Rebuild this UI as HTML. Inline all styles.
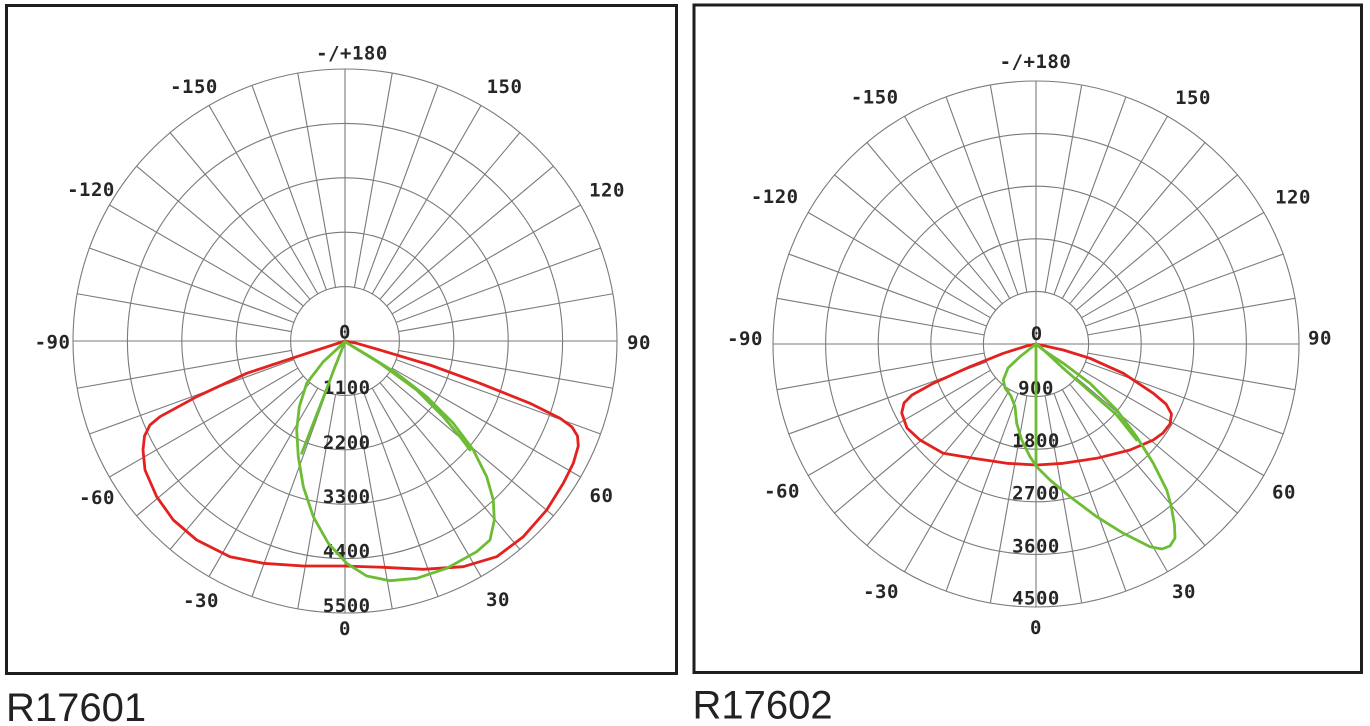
<!DOCTYPE html>
<html><head><meta charset="utf-8"><style>
html,body{margin:0;padding:0;background:#fff;}
svg{display:block;}
.g line{stroke:#7a7a7a;stroke-width:1.1;}
.g circle{fill:none;stroke:#7a7a7a;stroke-width:1.1;}
.l{font-family:"DejaVu Sans Mono","Liberation Mono",monospace;font-weight:bold;font-size:19px;fill:#262626;text-anchor:middle;letter-spacing:0.5px;}
.t{font-family:"Liberation Sans",Arial,sans-serif;font-size:40px;fill:#222;}
.red{fill:none;stroke:#e3221f;stroke-width:2.8;stroke-linejoin:round;stroke-linecap:round;}
.grn{fill:none;stroke:#6cbd34;stroke-width:2.8;stroke-linejoin:round;stroke-linecap:round;}
</style></head><body>
<svg width="1370" height="726" viewBox="0 0 1370 726" xmlns="http://www.w3.org/2000/svg">
<rect x="0" y="0" width="1370" height="726" fill="#fff"/>
<!-- boxes -->
<rect x="6.5" y="5.5" width="670" height="668" fill="none" stroke="#1e1e1e" stroke-width="3"/>
<rect x="694" y="5" width="667.5" height="667.5" fill="none" stroke="#1e1e1e" stroke-width="3"/>

<!-- LEFT GRID -->
<g class="g" transform="translate(345,341)">
<circle r="54.4"/><circle r="108.8"/><circle r="163.2"/><circle r="217.6"/><circle r="272"/>
<line x1="-272" y1="0" x2="272" y2="0"/><line x1="0" y1="-272" x2="0" y2="272"/>
<g>
<line x1="0" y1="-54.4" x2="0" y2="-272" transform="rotate(10)"/>
<line x1="0" y1="-54.4" x2="0" y2="-272" transform="rotate(20)"/>
<line x1="0" y1="-54.4" x2="0" y2="-272" transform="rotate(30)"/>
<line x1="0" y1="-54.4" x2="0" y2="-272" transform="rotate(40)"/>
<line x1="0" y1="-54.4" x2="0" y2="-272" transform="rotate(50)"/>
<line x1="0" y1="-54.4" x2="0" y2="-272" transform="rotate(60)"/>
<line x1="0" y1="-54.4" x2="0" y2="-272" transform="rotate(70)"/>
<line x1="0" y1="-54.4" x2="0" y2="-272" transform="rotate(80)"/>
<line x1="0" y1="-54.4" x2="0" y2="-272" transform="rotate(100)"/>
<line x1="0" y1="-54.4" x2="0" y2="-272" transform="rotate(110)"/>
<line x1="0" y1="-54.4" x2="0" y2="-272" transform="rotate(120)"/>
<line x1="0" y1="-54.4" x2="0" y2="-272" transform="rotate(130)"/>
<line x1="0" y1="-54.4" x2="0" y2="-272" transform="rotate(140)"/>
<line x1="0" y1="-54.4" x2="0" y2="-272" transform="rotate(150)"/>
<line x1="0" y1="-54.4" x2="0" y2="-272" transform="rotate(160)"/>
<line x1="0" y1="-54.4" x2="0" y2="-272" transform="rotate(170)"/>
<line x1="0" y1="-54.4" x2="0" y2="-272" transform="rotate(190)"/>
<line x1="0" y1="-54.4" x2="0" y2="-272" transform="rotate(200)"/>
<line x1="0" y1="-54.4" x2="0" y2="-272" transform="rotate(210)"/>
<line x1="0" y1="-54.4" x2="0" y2="-272" transform="rotate(220)"/>
<line x1="0" y1="-54.4" x2="0" y2="-272" transform="rotate(230)"/>
<line x1="0" y1="-54.4" x2="0" y2="-272" transform="rotate(240)"/>
<line x1="0" y1="-54.4" x2="0" y2="-272" transform="rotate(250)"/>
<line x1="0" y1="-54.4" x2="0" y2="-272" transform="rotate(260)"/>
<line x1="0" y1="-54.4" x2="0" y2="-272" transform="rotate(280)"/>
<line x1="0" y1="-54.4" x2="0" y2="-272" transform="rotate(290)"/>
<line x1="0" y1="-54.4" x2="0" y2="-272" transform="rotate(300)"/>
<line x1="0" y1="-54.4" x2="0" y2="-272" transform="rotate(310)"/>
<line x1="0" y1="-54.4" x2="0" y2="-272" transform="rotate(320)"/>
<line x1="0" y1="-54.4" x2="0" y2="-272" transform="rotate(330)"/>
<line x1="0" y1="-54.4" x2="0" y2="-272" transform="rotate(340)"/>
<line x1="0" y1="-54.4" x2="0" y2="-272" transform="rotate(350)"/>
</g>
</g>

<!-- RIGHT GRID -->
<g class="g" transform="translate(1036,344)">
<circle r="52.6"/><circle r="105.2"/><circle r="157.8"/><circle r="210.4"/><circle r="263"/>
<line x1="-263" y1="0" x2="263" y2="0"/><line x1="0" y1="-263" x2="0" y2="263"/>
<g>
<line x1="0" y1="-52.6" x2="0" y2="-263" transform="rotate(10)"/>
<line x1="0" y1="-52.6" x2="0" y2="-263" transform="rotate(20)"/>
<line x1="0" y1="-52.6" x2="0" y2="-263" transform="rotate(30)"/>
<line x1="0" y1="-52.6" x2="0" y2="-263" transform="rotate(40)"/>
<line x1="0" y1="-52.6" x2="0" y2="-263" transform="rotate(50)"/>
<line x1="0" y1="-52.6" x2="0" y2="-263" transform="rotate(60)"/>
<line x1="0" y1="-52.6" x2="0" y2="-263" transform="rotate(70)"/>
<line x1="0" y1="-52.6" x2="0" y2="-263" transform="rotate(80)"/>
<line x1="0" y1="-52.6" x2="0" y2="-263" transform="rotate(100)"/>
<line x1="0" y1="-52.6" x2="0" y2="-263" transform="rotate(110)"/>
<line x1="0" y1="-52.6" x2="0" y2="-263" transform="rotate(120)"/>
<line x1="0" y1="-52.6" x2="0" y2="-263" transform="rotate(130)"/>
<line x1="0" y1="-52.6" x2="0" y2="-263" transform="rotate(140)"/>
<line x1="0" y1="-52.6" x2="0" y2="-263" transform="rotate(150)"/>
<line x1="0" y1="-52.6" x2="0" y2="-263" transform="rotate(160)"/>
<line x1="0" y1="-52.6" x2="0" y2="-263" transform="rotate(170)"/>
<line x1="0" y1="-52.6" x2="0" y2="-263" transform="rotate(190)"/>
<line x1="0" y1="-52.6" x2="0" y2="-263" transform="rotate(200)"/>
<line x1="0" y1="-52.6" x2="0" y2="-263" transform="rotate(210)"/>
<line x1="0" y1="-52.6" x2="0" y2="-263" transform="rotate(220)"/>
<line x1="0" y1="-52.6" x2="0" y2="-263" transform="rotate(230)"/>
<line x1="0" y1="-52.6" x2="0" y2="-263" transform="rotate(240)"/>
<line x1="0" y1="-52.6" x2="0" y2="-263" transform="rotate(250)"/>
<line x1="0" y1="-52.6" x2="0" y2="-263" transform="rotate(260)"/>
<line x1="0" y1="-52.6" x2="0" y2="-263" transform="rotate(280)"/>
<line x1="0" y1="-52.6" x2="0" y2="-263" transform="rotate(290)"/>
<line x1="0" y1="-52.6" x2="0" y2="-263" transform="rotate(300)"/>
<line x1="0" y1="-52.6" x2="0" y2="-263" transform="rotate(310)"/>
<line x1="0" y1="-52.6" x2="0" y2="-263" transform="rotate(320)"/>
<line x1="0" y1="-52.6" x2="0" y2="-263" transform="rotate(330)"/>
<line x1="0" y1="-52.6" x2="0" y2="-263" transform="rotate(340)"/>
<line x1="0" y1="-52.6" x2="0" y2="-263" transform="rotate(350)"/>
</g>
</g>

<!-- LEFT LABELS -->
<g class="l">
<text x="352" y="59.6">-/+180</text>
<text x="194" y="92.9">-150</text>
<text x="504.5" y="92.9">150</text>
<text x="91" y="195.9">-120</text>
<text x="607" y="196.5">120</text>
<text x="52.5" y="348.6">-90</text>
<text x="639" y="348.9">90</text>
<text x="345" y="338.6">0</text>
<text x="97" y="503.9">-60</text>
<text x="601.5" y="501.9">60</text>
<text x="201" y="606.9">-30</text>
<text x="498" y="605.9">30</text>
<text x="346.7" y="393.9">1100</text>
<text x="346.7" y="448.9">2200</text>
<text x="346.7" y="502.9">3300</text>
<text x="346.7" y="557.6">4400</text>
<text x="346.7" y="611.9">5500</text>
<text x="345" y="635.2">0</text>
</g>

<!-- RIGHT LABELS -->
<g class="l">
<text x="1035.5" y="67.9">-/+180</text>
<text x="874.7" y="103.6">-150</text>
<text x="1193" y="103.9">150</text>
<text x="774.7" y="202.9">-120</text>
<text x="1293" y="203.7">120</text>
<text x="745" y="344.9">-90</text>
<text x="1320" y="344.6">90</text>
<text x="1036.7" y="339.9">0</text>
<text x="782" y="497.6">-60</text>
<text x="1284" y="498.6">60</text>
<text x="881" y="597.9">-30</text>
<text x="1184" y="597.9">30</text>
<text x="1036" y="394.6">900</text>
<text x="1036" y="446.9">1800</text>
<text x="1036" y="499.6">2700</text>
<text x="1036" y="552.6">3600</text>
<text x="1036" y="604.6">4500</text>
<text x="1036" y="634.2">0</text>
</g>

<!-- LEFT CURVES -->
<path class="red" d="M345,341 L356.7,343.3 L380,350 L430,365 L480,383.3 L530,403.3 L560,418.3 L572,427 L577.5,436 L578.3,446 L573.3,463.3 L563.3,483.3 L546.7,510 L523.3,536.7 L496.7,556.7 L463.3,566.7 L423.3,569.3 L383.3,567.3 L343.3,566 L303.3,566 L263.3,563.3 L230,556.7 L196.7,540 L173.3,520 L156.7,496.7 L145,470 L143,450 L144.5,436 L150,425 L160,416.7 L196.7,396.7 L246.7,373.3 L296.7,356.7 Z"/>
<path class="grn" d="M345,341.7 L323.3,361.7 L306.7,383.3 L299.3,406.7 L296.7,430 L298.3,456.7 L303.3,486.7 L313.3,516.7 L328.3,543.3 L346.7,563.3 L366.7,576 L390,580.7 L416.7,578.3 L446.7,568.3 L476.7,551.7 L490,540 L494.3,520 L493.3,500 L486.7,476.7 L473.3,450 L453.3,423.3 L426.7,396.7 L396.7,373.3 L370,356.7 Z"/>
<path class="grn" d="M345,341.7 L380,363.3 L416.7,390 L443.3,416.7 L460,436.7 L470,450"/>
<path class="grn" d="M345,341.7 L335,366.7 L325,393.3 L313.3,423.3 L301.7,453.3"/>

<!-- RIGHT CURVES -->
<path class="red" d="M1036,344 L1063.3,350 L1090,358.3 L1123.3,373.3 L1153.3,393.3 L1166,404 L1171.5,414 L1170,424 L1163,433 L1153.3,440 L1130,450 L1096.7,458.3 L1063.3,463.3 L1036.7,465 L1006.7,463.3 L973.3,458.3 L943.3,453.3 L920,440 L907,428 L901.7,413 L904,403 L912,395 L933.3,383.3 L970,366.7 L1003.3,353.3 L1026.7,346 Z"/>
<path class="grn" d="M1036,344 L1020,356.7 L1008,368 L1003.3,380 L1005,388 L1011,396 L1015,406.7 L1016.7,423.3 L1021.7,440 L1030,456.7 L1036.7,466.7 L1050,480 L1070,496.7 L1096.7,516.7 L1123.3,533.3 L1150,546.7 L1162,549 L1170,546 L1175,538 L1174.5,525 L1171,505 L1166.7,490 L1153.3,463.3 L1136.7,436.7 L1116.7,410 L1090,383.3 L1063.3,363.3 L1043.3,350 Z"/>
<path class="grn" d="M1036,344 L1036,466"/>
<path class="grn" d="M1038.3,345 L1063.3,368.3 L1090,391.7 L1116.7,415 L1136.7,440"/>

<!-- TITLES -->
<text class="t" x="6" y="721">R17601</text>
<text class="t" x="692.5" y="718.5">R17602</text>
</svg>
</body></html>
